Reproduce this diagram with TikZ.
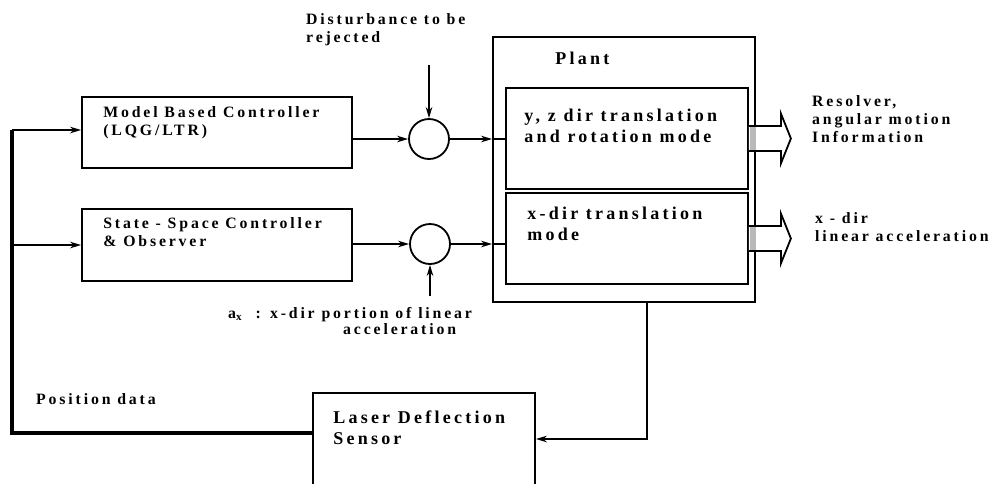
\documentclass[tikz,border=0pt]{standalone}
\usepackage{fontspec}
\setmainfont{Liberation Serif}
\newfontfamily\spacedfont[LetterSpace=18]{Liberation Serif}
\usetikzlibrary{arrows.meta,positioning,calc}

\begin{document}
\begin{tikzpicture}[x=1pt,y=-1pt,
  block/.style={rectangle, draw, line width=1.8pt, inner sep=0pt},
  sumnode/.style={circle, draw, line width=1.8pt, minimum size=40pt, inner sep=0pt},
  txt/.style={font=\fontsize{15.8}{18}\selectfont\spacedfont\bfseries, align=left, inner sep=0pt},
  bigtxt/.style={font=\fontsize{18}{20.5}\selectfont\spacedfont\bfseries, align=left, inner sep=0pt},
  sig/.style={line width=2.6pt, -{Stealth[length=11pt,width=6.5pt]}},
  sigline/.style={line width=2.6pt},
  fb/.style={line width=3.4pt},
  fat/.style={draw, line width=1.8pt, fill=white, line join=miter},
]
\useasboundingbox (0,0) rectangle (991,483);

% Controllers
\node[block, minimum width=270pt, minimum height=71pt] (mbc) at (217,132.5) {};
\node[block, minimum width=270pt, minimum height=72pt] (ssc) at (217,245) {};
\node[txt, below right=10pt and 22pt of mbc.north west] (mbctxt) {Model Based Controller\\(LQG/LTR)};
\node[txt, below right=9pt and 22pt of ssc.north west] (ssctxt) {State - Space Controller\\\& Observer};

% Summing junctions
\node[sumnode] (c1) at (429,139) {};
\node[sumnode] (c2) at (430,244) {};

% Plant
\node[block, minimum width=262pt, minimum height=265pt] (plant) at (624,169.5) {};
\node[block, minimum width=242pt, minimum height=101pt] (yz) at (627,138.5) {};
\node[block, minimum width=242pt, minimum height=91pt] (xd) at (627,238.5) {};
\node[bigtxt, below right=16pt and 63pt of plant.north west] (planttxt) {Plant};
\node[bigtxt, below right=22pt and 19pt of yz.north west] (yztxt) {y, z dir translation\\and rotation mode};
\node[bigtxt, below right=15pt and 22pt of xd.north west] (xdtxt) {x-dir translation\\mode};

% Sensor
\node[block, minimum width=222pt, minimum height=110pt] (sensor) at (424,448) {};
\node[bigtxt, below right=19pt and 21pt of sensor.north west] (sensortxt) {Laser Deflection\\Sensor};

% Labels
\node[txt, anchor=north west] (disttxt) at (306,13) {Disturbance to be\\rejected};
\node[txt, anchor=north west] (axtxt) at (228,307) {a\textsubscript{x} \ : x-dir portion of linear};
\node[txt, anchor=north west] (axtxt2) at (343,323) {acceleration};
\node[txt, anchor=north west] (postxt) at (36,393) {Position data};
\node[txt, anchor=north west] (restxt) at (812,95) {Resolver,\\angular motion\\Information};
\node[txt, anchor=north west] (acctxt) at (815,212) {x - dir\\linear acceleration};

% Signal lines
\coordinate (dist) at (429,65);
\coordinate (ax) at (430,296);
\draw[sig] (dist) -- (c1.north);
\draw[sig] (ax) -- (c2.south);
\draw[sig] (c1.west -| mbc.east) -- (c1.west);
\draw[sig] (c2.west -| ssc.east) -- (c2.west);
\draw[sig] (c1.east) -- (c1.east -| plant.west);
\draw[sigline] (c1.east -| plant.west) -- (c1.east -| yz.west);
\draw[sig] (c2.east) -- (c2.east -| plant.west);
\draw[sigline] (c2.east -| plant.west) -- (c2.east -| xd.west);

% Outputs
\foreach \m in {yz,xd} {
  \draw[fat] ($(\m.east)+(0,-12.5)$) -- ++(32,0) -- ++(0,-12.5) -- ++(10,25)
    -- ++(-10,25) -- ++(0,-12.5) -- ++(-32,0);
  \fill[gray!55] ($(\m.east)+(1,-11.5)$) rectangle ($(\m.east)+(7,11.5)$);
}

% Feedback
\coordinate (fbturn) at (647,439);
\coordinate (fbleft) at (12,433);
\coordinate (fbtop) at (12,130);
\draw[sig] (fbturn |- plant.south) -- (fbturn) -- (fbturn -| sensor.east);
\draw[fb] (fbleft -| sensor.west) -- (fbleft) -- (fbtop);
\draw[sig] (fbtop) -- (fbtop -| mbc.west);
\draw[sig] (fbtop |- ssc.west) -- (ssc.west);
\end{tikzpicture}
\end{document}
